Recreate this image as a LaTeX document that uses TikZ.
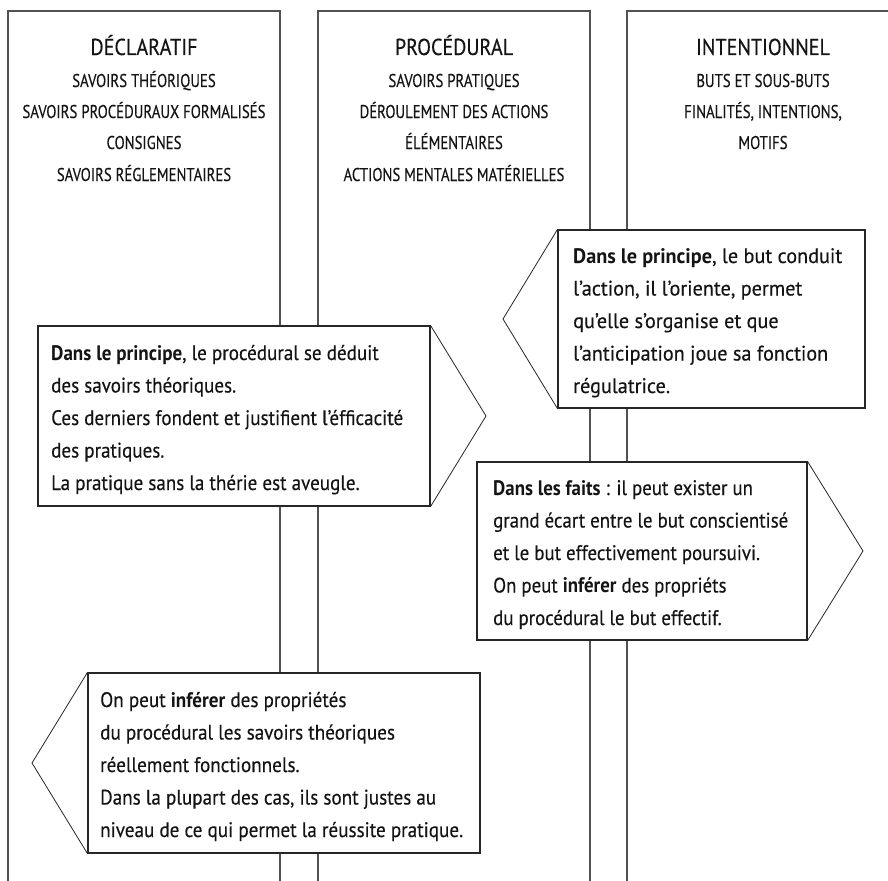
\documentclass[tikz,border=0pt]{standalone}
\usepackage{fontspec}
\usepackage{graphicx}
\setmainfont{PT Sans}[UprightFeatures={FakeBold=0.3}]
\newlength\fitlen
\newcommand\headfont{\fontsize{23}{28}\selectfont}
\newcommand\subfont{\fontsize{18.5}{22}\selectfont}
\newcommand\bodyfont{\fontsize{21}{32.5}\selectfont}
% scale a block horizontally so that the given reference line has the given width
\newcommand\calltext[3]{\settowidth\fitlen{#2}\pgfmathsetmacro\fitfac{#1/\fitlen}\scalebox{\fitfac}[1]{\begin{tabular}{@{}l@{}}#3\end{tabular}}}
\begin{document}
\settowidth\fitlen{\headfont DÉCLARATIF}\pgfmathsetmacro\headfac{107/\fitlen}
\settowidth\fitlen{\subfont SAVOIRS PROCÉDURAUX FORMALISÉS}\pgfmathsetmacro\subfac{243/\fitlen}
\begin{tikzpicture}[x=1pt,y=-1pt,
  col/.style={draw=black!68, line width=1.4pt},
  callout/.style={draw=black!85, line width=1.1pt, fill=white, inner sep=0pt, rectangle},
  tipline/.style={draw=black!85, line width=0.8pt, line join=miter},
  head/.style={font=\headfont, text=black!92, inner sep=0pt, anchor=base},
  sub/.style={font=\subfont, text=black!92, inner sep=0pt, anchor=base},
  txt/.style={font=\bodyfont, text=black!92, inner sep=0pt, anchor=west, yshift=-2.5pt},
]
\useasboundingbox (0,0) rectangle (888,880);
\fill[white] (0,0) rectangle (888,880);
\begin{scope}
\clip (0,0) rectangle (888,880);
% columns
\draw[col] (8,900) -- (8,11) -- (280,11) -- (280,900);
\draw[col] (318,900) -- (318,11) -- (590,11) -- (590,900);
\draw[col] (627,900) -- (627,11) -- (899,11) -- (899,900);
\end{scope}
% headers
\node[head] (h1) at (144,55) {\scalebox{\headfac}[1]{DÉCLARATIF}};
\node[sub] (h1a) at (144,87) {\scalebox{\subfac}[1]{SAVOIRS THÉORIQUES}};
\node[sub] (h1b) at (144,118) {\scalebox{\subfac}[1]{SAVOIRS PROCÉDURAUX FORMALISÉS}};
\node[sub] (h1c) at (144,149) {\scalebox{\subfac}[1]{CONSIGNES}};
\node[sub] (h1d) at (144,181) {\scalebox{\subfac}[1]{SAVOIRS RÉGLEMENTAIRES}};
\node[head] (h2) at (454,55) {\scalebox{\headfac}[1]{PROCÉDURAL}};
\node[sub] (h2a) at (454,87) {\scalebox{\subfac}[1]{SAVOIRS PRATIQUES}};
\node[sub] (h2b) at (454,118) {\scalebox{\subfac}[1]{DÉROULEMENT DES ACTIONS}};
\node[sub] (h2c) at (454,149) {\scalebox{\subfac}[1]{ÉLÉMENTAIRES}};
\node[sub] (h2d) at (454,181) {\scalebox{\subfac}[1]{ACTIONS MENTALES MATÉRIELLES}};
\node[head] (h3) at (763,55) {\scalebox{\headfac}[1]{INTENTIONNEL}};
\node[sub] (h3a) at (763,87) {\scalebox{\subfac}[1]{BUTS ET SOUS-BUTS}};
\node[sub] (h3b) at (763,118) {\scalebox{\subfac}[1]{FINALITÉS, INTENTIONS,}};
\node[sub] (h3c) at (763,149) {\scalebox{\subfac}[1]{MOTIFS}};
% callout 1
\node[callout, minimum width=392pt, minimum height=180pt] (c1) at (234,416) {};
\coordinate (tip1) at (486,416);
\draw[tipline] (c1.north east) -- (tip1) -- (c1.south east);
\node[txt] (t1) at (51,416) {\calltext{352}{Ces derniers fondent et justifient l’éfficacité}{\textbf{Dans le principe}, le procédural se déduit\\des savoirs théoriques.\\Ces derniers fondent et justifient l’éfficacité\\des pratiques.\\La pratique sans la thérie est aveugle.}};
% callout 2
\node[callout, minimum width=307pt, minimum height=178pt] (c2) at (711.5,319) {};
\coordinate (tip2) at (503,319);
\draw[tipline] (c2.north west) -- (tip2) -- (c2.south west);
\node[txt] (t2) at (573,319) {\calltext{269}{\textbf{Dans le principe}, le but conduit}{\textbf{Dans le principe}, le but conduit\\l’action, il l’oriente, permet\\qu’elle s’organise et que\\l’anticipation joue sa fonction\\régulatrice.}};
% callout 3
\node[callout, minimum width=330pt, minimum height=178pt] (c3) at (642,551) {};
\coordinate (tip3) at (863,551);
\draw[tipline] (c3.north east) -- (tip3) -- (c3.south east);
\node[txt] (t3) at (493,551) {\calltext{295}{grand écart entre le but conscientisé}{\textbf{Dans les faits} : il peut exister un\\grand écart entre le but conscientisé\\et le but effectivement poursuivi.\\On peut \textbf{inférer} des propriéts\\du procédural le but effectif.}};
% callout 4
\node[callout, minimum width=392pt, minimum height=180pt] (c4) at (284,763) {};
\coordinate (tip4) at (32,763);
\draw[tipline] (c4.north west) -- (tip4) -- (c4.south west);
\node[txt] (t4) at (100,763) {\calltext{363}{niveau de ce qui permet la réussite pratique.}{On peut \textbf{inférer} des propriétés\\du procédural les savoirs théoriques\\réellement fonctionnels.\\Dans la plupart des cas, ils sont justes au\\niveau de ce qui permet la réussite pratique.}};
\end{tikzpicture}
\end{document}
